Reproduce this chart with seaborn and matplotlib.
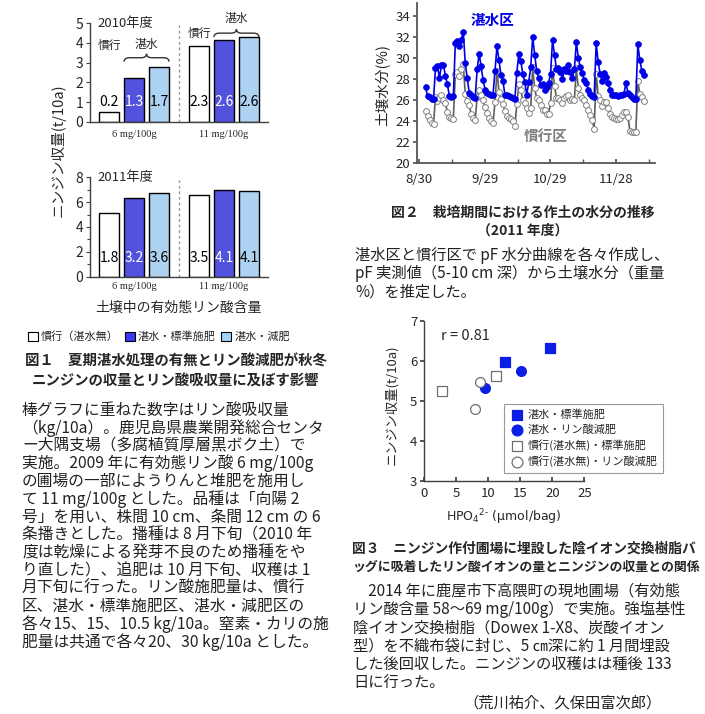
import numpy as np
import pandas as pd
import matplotlib
matplotlib.use("Agg")
import matplotlib.pyplot as plt
import matplotlib.dates as mdates
from matplotlib.patches import Patch, PathPatch
from matplotlib.path import Path
import seaborn as sns

# ---- data: fig 1 (bar charts) ----
p_levels = ["6 mg/100g", "11 mg/100g"]
treatments = ["慣行（湛水無）", "湛水・標準施肥", "湛水・減肥"]
yield_2010 = {"慣行（湛水無）": [0.47, 3.85], "湛水・標準施肥": [2.2, 4.15], "湛水・減肥": [2.76, 4.32]}
uptake_2010 = {"慣行（湛水無）": [0.2, 2.3], "湛水・標準施肥": [1.3, 2.6], "湛水・減肥": [1.7, 2.6]}
yield_2011 = {"慣行（湛水無）": [5.15, 6.58], "湛水・標準施肥": [6.31, 7.0], "湛水・減肥": [6.77, 6.87]}
uptake_2011 = {"慣行（湛水無）": [1.8, 3.5], "湛水・標準施肥": [3.2, 4.1], "湛水・減肥": [3.6, 4.1]}

# ---- data: fig 2 (soil moisture, 2011) ----
moist_start, moist_end = "2011-09-02", "2011-12-10 16:00"
moist_flooded = [
    27.2, 26.4, 26.3, 26.1, 26.1, 29.0, 29.2, 28.1, 29.3, 29.3,
    28.3, 27.5, 26.4, 26.3, 26.4, 31.4, 31.6, 31.1, 31.7, 32.5,
    29.5, 28.1, 26.7, 26.5, 26.3, 26.2, 28.9, 30.4, 29.2, 27.9,
    27.0, 26.7, 26.6, 26.5, 26.5, 28.8, 31.1, 29.8, 28.4, 27.8,
    26.5, 26.5, 26.4, 26.3, 26.2, 26.1, 28.6, 30.4, 29.7, 28.5,
    27.7, 26.5, 27.7, 29.1, 32.0, 30.3, 28.8, 28.1, 27.4, 27.5,
    27.0, 27.2, 27.6, 28.5, 31.7, 30.3, 28.9, 29.0, 28.7, 28.0,
    28.9, 28.8, 29.3, 28.7, 28.1, 28.9, 31.5, 30.0, 29.1, 28.6,
    27.9, 27.6, 27.0, 26.6, 26.4, 26.3, 31.4, 29.6, 28.5, 27.8,
    28.6, 28.2, 27.6, 27.0, 26.5, 26.5, 26.5, 26.4, 26.5, 26.5,
    26.6, 27.6, 26.7, 26.5, 26.3, 26.1, 26.1, 31.3, 29.8, 28.8,
    28.4,
]
moist_conv = [
    25.0, 24.5, 24.1, 23.8, 23.7, 26.3, 25.9, 26.2, 26.5, 26.0,
    25.7, 24.9, 24.4, 24.3, 24.2, 28.5, 28.7, 28.3, 28.9, 29.4,
    26.6, 25.9, 25.5, 24.7, 24.3, 24.1, 26.3, 27.0, 26.5, 26.0,
    25.3, 24.8, 24.3, 24.0, 23.8, 25.8, 28.8, 26.8, 26.1, 25.6,
    25.0, 24.5, 24.3, 24.2, 24.0, 23.5, 25.6, 27.5, 27.0, 26.0,
    25.7, 25.2, 24.8, 25.2, 29.1, 27.1, 26.2, 26.0, 25.5, 25.1,
    25.1, 24.7, 24.7, 25.7, 29.0, 27.3, 26.2, 26.2, 26.0, 25.7,
    26.2, 26.4, 26.5, 26.0, 26.1, 26.0, 29.0, 27.1, 26.5, 26.2,
    26.0, 25.5, 25.1, 24.6, 24.1, 23.3, 28.5, 26.4, 26.0, 25.4,
    25.8, 25.8, 25.2, 24.7, 24.4, 24.3, 24.2, 24.2, 24.3, 24.6,
    24.9, 24.9, 24.4, 23.1, 23.0, 23.0, 23.0, 27.8, 26.6, 26.3,
    25.9,
]
date_ticks = ["2011-08-30", "2011-09-29", "2011-10-29", "2011-11-28"]
date_labels = ["8/30", "9/29", "10/29", "11/28"]

# ---- data: fig 3 (resin bag HPO4 vs yield) ----
scatter_groups = ["湛水・標準施肥", "湛水・リン酸減肥", "慣行(湛水無)・標準施肥", "慣行(湛水無)・リン酸減肥"]
hpo4 = [[12.6, 19.7], [9.5, 15.1], [2.7, 11.2], [8.7, 7.9]]
carrot_yield = [[5.98, 6.31], [5.31, 5.74], [5.25, 5.62], [5.46, 4.80]]

# ---- text ----
cap1 = ["図１　夏期湛水処理の有無とリン酸減肥が秋冬", "ニンジンの収量とリン酸吸収量に及ぼす影響"]
body1 = [
    "棒グラフに重ねた数字はリン酸吸収量",
    "（kg/10a）。鹿児島県農業開発総合センタ",
    "ー大隅支場（多腐植質厚層黒ボク土）で",
    "実施。2009 年に有効態リン酸 6 mg/100g",
    "の圃場の一部にようりんと堆肥を施用し",
    "て 11 mg/100g とした。品種は「向陽 2",
    "号」を用い、株間 10 cm、条間 12 cm の 6",
    "条播きとした。播種は 8 月下旬（2010 年",
    "度は乾燥による発芽不良のため播種をや",
    "り直した）、追肥は 10 月下旬、収穫は 1",
    "月下旬に行った。リン酸施肥量は、慣行",
    "区、湛水・標準施肥区、湛水・減肥区の",
    "各々15、15、10.5 kg/10a。窒素・カリの施",
    "肥量は共通で各々20、30 kg/10a とした。",
]
cap2 = ["図２　栽培期間における作土の水分の推移", "（2011 年度）"]
body2 = [
    "湛水区と慣行区で pF 水分曲線を各々作成し、",
    "pF 実測値（5-10 cm 深）から土壌水分（重量",
    "%）を推定した。",
]
cap3 = ["図３　ニンジン作付圃場に埋設した陰イオン交換樹脂バ", "ッグに吸着したリン酸イオンの量とニンジンの収量との関係"]
body3 = [
    "　2014 年に鹿屋市下高隈町の現地圃場（有効態",
    "リン酸含量 58～69 mg/100g）で実施。強塩基性",
    "陰イオン交換樹脂（Dowex 1-X8、炭酸イオン",
    "型）を不織布袋に封じ、5 ㎝深に約 1 月間埋設",
    "した後回収した。ニンジンの収穫はは種後 133",
    "日に行った。",
]
authors = "（荒川祐介、久保田富次郎）"

sns.set_theme(style="ticks")
plt.rcParams["font.family"] = ["Noto Sans CJK JP", "DejaVu Sans"]

W, H = 705, 714
fig = plt.figure(figsize=(W / 100, H / 100), dpi=100)
fig.patch.set_facecolor("white")


def fx(x):
    return x / W


def fy(y):
    return 1 - y / H


def box(l, t, r, b):
    return [fx(l), fy(b), (r - l) / W, (b - t) / H]


def brace(ax, x0, x1, y, h):
    xm = (x0 + x1) / 2
    q = (x1 - x0) * 0.12
    verts = [(x0, y), (x0, y + h / 2), (x0 + q, y + h / 2), (xm - q, y + h / 2),
             (xm, y + h / 2), (xm, y + h), (xm, y + h / 2), (xm + q, y + h / 2),
             (x1 - q, y + h / 2), (x1, y + h / 2), (x1, y)]
    codes = [Path.MOVETO, Path.CURVE3, Path.CURVE3, Path.LINETO, Path.CURVE3, Path.CURVE3,
             Path.CURVE3, Path.CURVE3, Path.LINETO, Path.CURVE3, Path.CURVE3]
    ax.add_patch(PathPatch(Path(verts, codes), fc="none", ec="#333333", lw=1, clip_on=False))


bar_colors = dict(zip(treatments, ["white", "#3b3bf6", "#a3d3fc"]))
spine_col = "#404040"


def bar_panel(ax, yields, uptakes, ymax, label_y, year):
    rows = []
    for t in treatments:
        for p, v in zip(p_levels, yields[t]):
            rows.append({"P": p, "treat": t, "yield": v})
    df = pd.DataFrame(rows)
    sns.barplot(data=df, x="P", y="yield", hue="treat", hue_order=treatments, order=p_levels,
                palette=bar_colors, edgecolor="black", linewidth=1, width=0.833, gap=0.2,
                errorbar=None, legend=False, ax=ax)
    for t, cont in zip(treatments, ax.containers):
        for patch, val in zip(cont, uptakes[t]):
            cx = patch.get_x() + patch.get_width() / 2
            ax.text(cx, label_y, f"{val}", ha="center", va="center", fontsize=10,
                    color="white" if t == "湛水・標準施肥" else "black")
    ax.axvline(0.5, color="#999999", lw=1, ls=(0, (2, 2)))
    ax.set_xlim(-0.49, 1.49)
    ax.set_ylim(0, ymax)
    ax.set_xlabel("")
    ax.set_ylabel("")
    sns.despine(ax=ax)
    for s in ["left", "bottom"]:
        ax.spines[s].set_color(spine_col)
        ax.spines[s].set_linewidth(1)
    ax.tick_params(axis="y", labelsize=10, length=3, width=0.8, color=spine_col, pad=2)
    ax.tick_params(axis="x", length=0, labelsize=7.5, pad=6)
    for lab in ax.get_xticklabels():
        lab.set_fontfamily("Liberation Serif")
    ax.text(0.04, 1.0, year, transform=ax.transAxes, fontsize=9.5, va="center", ha="left")
    return ax


# fig 1, 2010
ax1 = fig.add_axes(box(90, 23.3, 268, 121.7))
bar_panel(ax1, yield_2010, uptake_2010, 5, 1.02, "2010年度")
ax1.set_yticks(range(0, 6))
c_conv, c_std, c_red = ax1.containers
for i, (by, ty) in enumerate([(3.05, 3.9), (4.3, 4.5)]):
    x0 = c_std[i].get_x()
    x1 = c_red[i].get_x() + c_red[i].get_width()
    brace(ax1, x0, x1, by, 0.4)
    wx = c_conv[i].get_x() + c_conv[i].get_width() / 2
    ax1.text(wx, ty, "慣行", ha="center", va="center", fontsize=8.5)
    ax1.text((x0 + x1) / 2, 3.9 if i == 0 else 5.25, "湛水", ha="center", va="center",
             fontsize=8.5, clip_on=False)

# fig 1, 2011
ax2 = fig.add_axes(box(90, 177.3, 268, 276.7))
bar_panel(ax2, yield_2011, uptake_2011, 8, 1.48, "2011年度")
ax2.set_yticks(range(0, 9, 2))
ax2.set_yticks(range(1, 9, 2), minor=True)
ax2.tick_params(axis="y", which="minor", length=2, width=0.8, color=spine_col)
ax2.tick_params(axis="x", pad=4)
ax2.set_xlabel("土壌中の有効態リン酸含量", fontsize=10, labelpad=7)

fig.text(fx(58), fy(150), "ニンジン収量(t/10a)", rotation=90, ha="center", va="center", fontsize=10.5)

handles = [Patch(facecolor=bar_colors[t], edgecolor="black", lw=0.8) for t in treatments]
fig.legend(handles, treatments, loc="center", bbox_to_anchor=(fx(159), fy(337)), ncol=3,
           frameon=False, fontsize=8, handlelength=0.9, handleheight=0.9,
           handletextpad=0.3, columnspacing=0.5)

# fig 2
ax3 = fig.add_axes(box(417, 3.1, 655, 163.3))
ts = pd.DataFrame({"date": pd.date_range(moist_start, moist_end, periods=len(moist_flooded)),
                   "湛水区": moist_flooded, "慣行区": moist_conv})
sns.lineplot(data=ts, x="date", y="慣行区", ax=ax3, color="#5e5e5e", lw=1.2, marker="o",
             markersize=4.2, markerfacecolor="white", markeredgecolor="#808080", markeredgewidth=0.7)
sns.lineplot(data=ts, x="date", y="湛水区", ax=ax3, color="#0000e6", lw=1.2, marker="o",
             markersize=4.2, markeredgecolor="#0000e6", markeredgewidth=0.5)
ax3.set_xlim(pd.Timestamp("2011-08-29 02:00"), pd.Timestamp("2011-12-15 19:00"))
ax3.set_ylim(20, 35.2)
ax3.set_yticks(range(20, 35, 2))
tick_num = mdates.date2num(pd.to_datetime(date_ticks))
ax3.set_xticks(tick_num, date_labels)
ax3.set_xticks(tick_num + 15, minor=True)
ax3.set_xlabel("")
ax3.set_ylabel("")
sns.despine(ax=ax3)
for s in ["left", "bottom"]:
    ax3.spines[s].set_color("#555555")
    ax3.spines[s].set_linewidth(1.3)
ax3.tick_params(axis="y", labelsize=9.5, length=3, color="#555555", pad=2)
ax3.tick_params(axis="x", which="both", direction="in", length=3, color="#555555", labelsize=9.5, pad=7)
ax3.text(0.319, 0.894, "湛水区", transform=ax3.transAxes, color="#0000e6", fontsize=10.5,
         fontweight="bold", ha="center", va="center")
ax3.text(0.542, 0.170, "慣行区", transform=ax3.transAxes, color="#808080", fontsize=10.5,
         fontweight="bold", ha="center", va="center")
fig.text(fx(383), fy(85), "土壌水分(%)", rotation=90, ha="center", va="center", fontsize=10.5)

# fig 3
ax4 = fig.add_axes(box(424.3, 320.7, 584.3, 481))
styles = [("s", "#0a1ee6", "#0a1ee6"), ("o", "#0a1ee6", "#0a1ee6"),
          ("s", "white", "#707070"), ("o", "white", "#707070")]
for g, xs, ys, (m, fc, ec) in zip(scatter_groups, hpo4, carrot_yield, styles):
    sns.scatterplot(x=xs, y=ys, ax=ax4, marker=m, s=50, color=fc, edgecolor=ec, linewidth=0.9,
                    label=g, zorder=3)
ax4.set_xlim(0, 25)
ax4.set_ylim(3, 7)
ax4.set_xticks(range(0, 26, 5))
ax4.set_yticks(range(3, 8))
sns.despine(ax=ax4)
for s in ["left", "bottom"]:
    ax4.spines[s].set_color(spine_col)
    ax4.spines[s].set_linewidth(1)
ax4.tick_params(axis="y", labelsize=9.5, length=3, color=spine_col, pad=2)
ax4.tick_params(axis="x", direction="in", length=3, color=spine_col, labelsize=9.5, pad=4)
ax4.set_xlabel("HPO$_4$$^{2\u2010}$ (μmol/bag)", fontsize=9, labelpad=6, fontfamily="DejaVu Sans")
ax4.text(0.26, 0.905, "r = 0.81", transform=ax4.transAxes, fontsize=10.5, ha="center", va="center")
leg = ax4.legend(loc="lower left", bbox_to_anchor=(0.50, 0.05), borderaxespad=0, fontsize=8,
                 frameon=True, fancybox=False, edgecolor="#808080", borderpad=0.5,
                 labelspacing=0.4, handletextpad=0.3, handlelength=1.3, markerscale=1.1)
leg.get_frame().set_linewidth(0.8)
fig.text(fx(392), fy(405), "ニンジン収量(t/10a)", rotation=90, ha="center", va="center", fontsize=9.5)

# captions & body text
for i, line in enumerate(cap1):
    fig.text(fx(176), fy(361 + 21 * i), line, ha="center", va="center", fontsize=10.4, fontweight="bold")
for i, line in enumerate(body1):
    fig.text(fx(22), fy(410 + 17.85 * i), line, ha="left", va="center", fontsize=11.3, color="#222222")
for i, line in enumerate(cap2):
    fig.text(fx(523), fy(213 + 18 * i), line, ha="center", va="center", fontsize=10, fontweight="bold")
for i, line in enumerate(body2):
    fig.text(fx(355), fy(255 + 18.5 * i), line, ha="left", va="center", fontsize=11, color="#222222")
for i, (line, fs) in enumerate(zip(cap3, [9.9, 9.3])):
    fig.text(fx(352), fy(549 + 18 * i), line, ha="left", va="center", fontsize=fs, fontweight="bold")
for i, line in enumerate(body3):
    fig.text(fx(353), fy(591 + 18.5 * i), line, ha="left", va="center", fontsize=11, color="#222222")
fig.text(fx(463), fy(703), authors, ha="left", va="center", fontsize=11, color="#222222")

fig.savefig("out.png", dpi=100, facecolor="white")
